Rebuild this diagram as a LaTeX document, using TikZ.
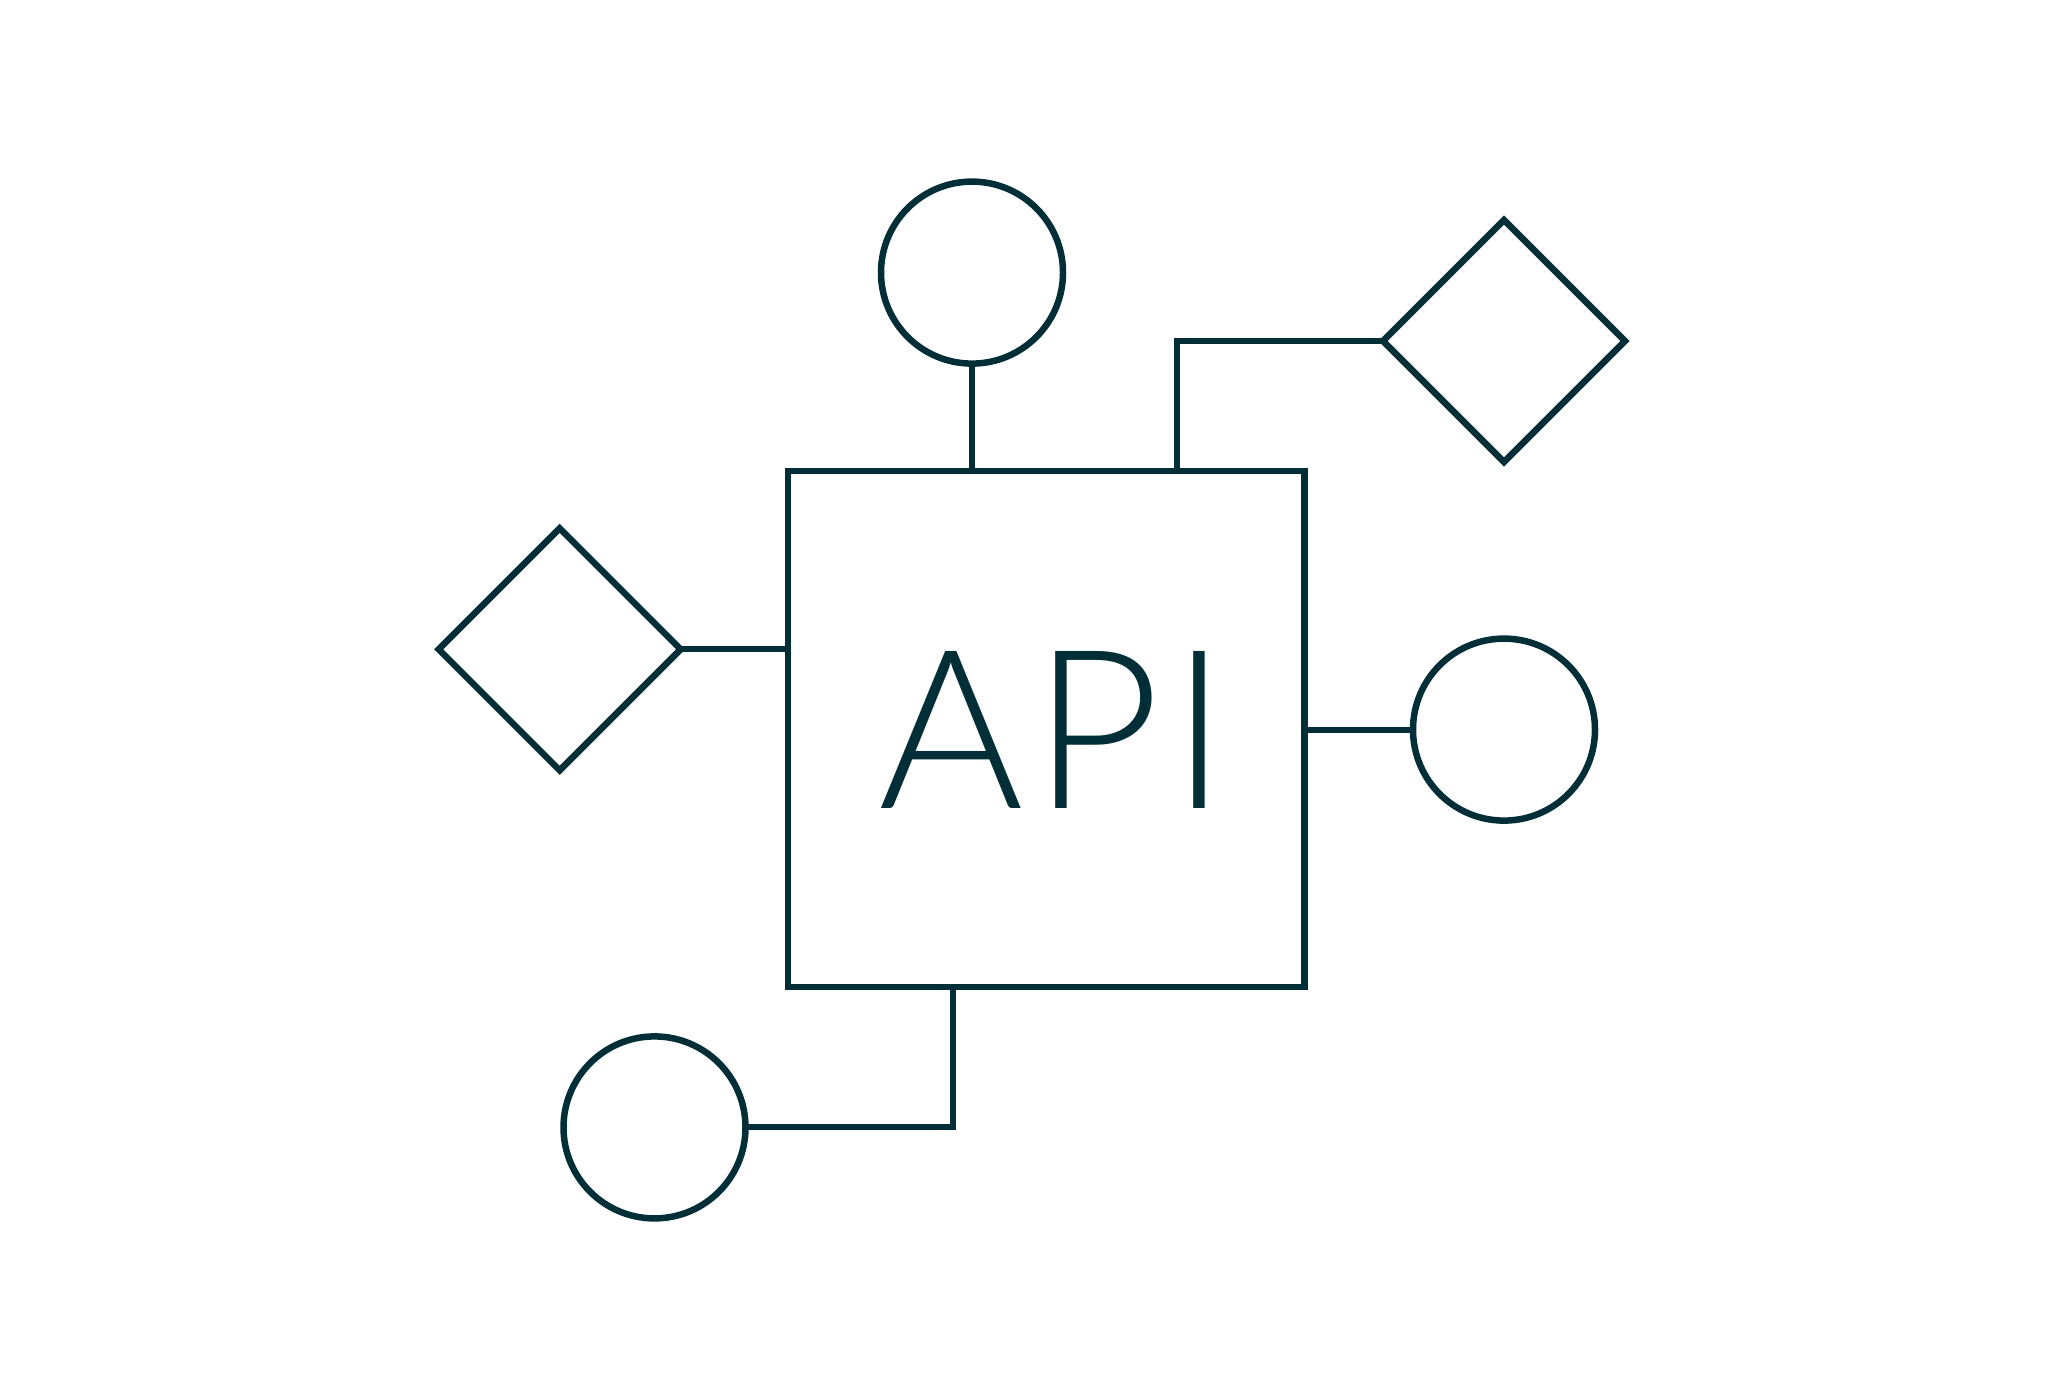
\documentclass[tikz,border=0pt]{standalone}
\usepackage{fontspec}
\setmainfont{Lato Light}[LetterSpace=4]
\usetikzlibrary{shapes.geometric}
\definecolor{ink}{HTML}{022F37}
\begin{document}
\begin{tikzpicture}[x=1pt,y=-1pt,
  every node/.style={draw=ink,line width=6.5pt,inner sep=0pt,outer sep=0pt},
  ring/.style={circle,minimum size=182pt},
  gem/.style={diamond,minimum width=242pt,minimum height=242pt},
  wire/.style={draw=ink,line width=6pt}]
\useasboundingbox (0,0) rectangle (2065,1400);
\node[draw=ink,minimum width=516.5pt,minimum height=516pt] (api) at (1046.25,729) {};
\node[draw=none,text=ink,font=\fontsize{222}{222}\selectfont] (lbl) at (1053,730) {API};
\node[ring] (ctop) at (972,272.6) {};
\node[gem] (dtr) at (1504,341) {};
\node[gem] (dl) at (559.7,649.3) {};
\node[ring] (cr) at (1504,729.6) {};
\node[ring] (cbl) at (654.5,1127.4) {};
\draw[wire] (ctop.south) -- (ctop.south |- api.north);
\draw[wire] (dtr.west) -- (1176.7,341) -- (1176.7,0 |- api.north);
\draw[wire] (dl.east) -- (dl.east -| api.west);
\draw[wire] (cr.west) -- (cr.west -| api.east);
\draw[wire] (952.8,0 |- api.south) -- (952.8,1127.4) -- (cbl.east);
\end{tikzpicture}
\end{document}
